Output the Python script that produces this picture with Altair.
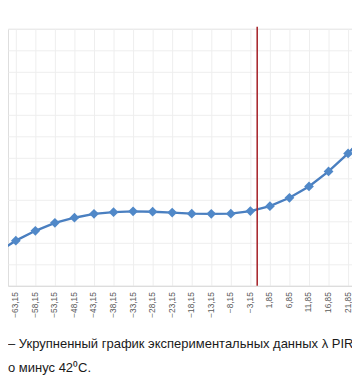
import altair as alt
import pandas as pd

# temperatures (°C) of the experimental points
temps = [-68.15, -63.15, -58.15, -53.15, -48.15, -43.15, -38.15, -33.15, -28.15,
         -23.15, -18.15, -13.15, -8.15, -3.15, 1.85, 6.85, 11.85, 16.85, 21.85, 26.85]
# λ PIR values, in units of the (cropped) y-axis grid step
lam = [1.54, 2.11, 2.57, 2.94, 3.18, 3.36, 3.44, 3.48, 3.46,
       3.42, 3.37, 3.36, 3.37, 3.49, 3.72, 4.11, 4.64, 5.34, 6.18, 7.16]
tick_temps = [-63.15, -58.15, -53.15, -48.15, -43.15, -38.15, -33.15, -28.15, -23.15,
              -18.15, -13.15, -8.15, -3.15, 1.85, 6.85, 11.85, 16.85, 21.85]
grid_steps = list(range(13))
marker_temp = [-1.4]
caption = ["– Укрупненный график экспериментальных данных λ PIR",
           "о минус 42⁰С."]

df = pd.DataFrame({"t": temps, "v": lam})

xscale = alt.Scale(domain=[-65.15, 22.85], nice=False, zero=False)
yscale = alt.Scale(domain=[0, 12], nice=False, zero=False)

xaxis = alt.Axis(values=tick_temps, tickCount=60,
                 labelExpr="replace(format(datum.value, '.2f'), '.', ',')",
                 labelAngle=270, labelFont="Liberation Sans", labelFontSize=8.5,
                 labelColor="#595959", ticks=False, labelPadding=6, labelOffset=-1,
                 domainColor="#d9d9d9", gridColor="#eeeeee", title=None,
                 labelOverlap=False, labelBound=False, labelFlush=False)
yaxis = alt.Axis(values=grid_steps, tickCount=40, labels=False, ticks=False,
                 domain=False, gridColor="#eeeeee", title=None)

base = alt.Chart(df)
line = base.mark_line(color="#4a7fc0", strokeWidth=2.4, clip=True).encode(
    x=alt.X("t:Q", scale=xscale, axis=xaxis),
    y=alt.Y("v:Q", scale=yscale, axis=yaxis),
)
pts = base.mark_point(shape="diamond", filled=True, size=100, opacity=1,
                      color="#5088c8", clip=True).encode(
    x=alt.X("t:Q", scale=xscale),
    y=alt.Y("v:Q", scale=yscale),
)
rule = alt.Chart(pd.DataFrame({"t": marker_temp})).mark_rule(
    color="#a8282e", strokeWidth=1.6).encode(
    x=alt.X("t:Q", scale=xscale),
    y=alt.value(-2), y2=alt.value(263),
)
cap_df = pd.DataFrame({"txt": caption, "yy": [327, 351]})
cap = alt.Chart(cap_df).mark_text(align="left", baseline="alphabetic",
                                  font="Liberation Sans", fontSize=13.3,
                                  color="#1a1a1a").encode(
    x=alt.value(0), y=alt.Y("yy:Q", scale=None), text="txt:N")

chart = alt.layer(line, pts, rule, cap).properties(
    width=352, height=263,
    autosize=alt.AutoSizeParams(type="none"),
    padding={"left": 0, "top": 17, "right": 0, "bottom": 90},
).configure_view(stroke=None).configure(background="white")

chart.save("out.html", embed_options={"renderer": "svg", "actions": False})
